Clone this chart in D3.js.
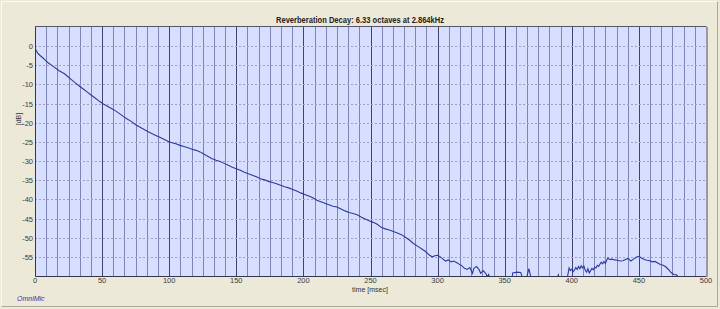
<!DOCTYPE html>
<html>
<head>
  <meta charset="UTF-8">
  <title>Reverberation Decay</title>
  <script src="https://cdn.jsdelivr.net/npm/d3@7"></script>
  <style>
    html, body { margin: 0; padding: 0; background: #ece9d8; }
    svg { display: block; }
    text { font-family: "Liberation Sans", "DejaVu Sans", sans-serif; }
  </style>
</head>
<body>
<div id="chart"></div>
<script>
// decay curve: time in msec, level in dB
var times = [0, 1, 2, 4, 6, 8, 10, 12, 14, 16, 18, 20, 22, 24, 26, 28, 30, 33, 36, 39,
  42, 45, 48, 51, 54, 57, 60, 63, 66, 69, 72, 75, 78, 81, 84, 87, 90, 93, 96, 99,
  102, 105, 108, 111, 114, 117, 120, 123, 126, 129, 132, 135, 138, 141, 144, 147, 150, 153, 156, 159,
  162, 165, 168, 171, 174, 177, 180, 183, 186, 189, 192, 195, 198, 201, 204, 207, 210, 213, 216, 219,
  222, 225, 228, 231, 234, 237, 240, 243, 246, 249, 252, 255, 258, 261, 264, 267, 270, 273, 276, 279,
  282, 285, 288, 291, 294, 296, 298, 300, 302, 304, 306, 308, 310, 312, 314, 316, 318, 320, 322, 324,
  326, 327, 329, 331, 332, 334, 336, 337, 338, 340, 345, 350, 355, 356, 359, 362, 364, 366, 368, 370,
  373, 380, 388, 390, 391, 393, 396, 397, 398, 399, 400, 401, 402, 403, 404, 405, 406, 407, 408, 409,
  410, 411, 412, 413, 414, 415, 416, 417, 418, 419, 420, 421, 422, 423, 424, 425, 426, 427, 428, 430,
  432, 434, 436, 438, 440, 442, 444, 446, 448, 450, 452, 454, 456, 458, 460, 462, 464, 466, 468, 470,
  472, 474, 476, 478, 480, 483, 490, 500];
var levels = [-0.5, -1.2, -1.8, -2.5, -3.1, -3.8, -4.4, -4.9, -5.4, -5.9, -6.4, -6.8, -7.2, -7.8, -8.4, -9.0, -9.6, -10.4, -11.2, -12.0,
  -12.8, -13.6, -14.4, -15.1, -15.7, -16.3, -16.9, -17.6, -18.4, -19.1, -19.7, -20.5, -21.1, -21.7, -22.3, -22.8, -23.3, -23.8, -24.3, -24.8,
  -25.2, -25.5, -25.9, -26.2, -26.5, -26.9, -27.2, -27.6, -28.2, -28.8, -29.4, -29.8, -30.1, -30.6, -31.1, -31.6, -32.0, -32.4, -32.9, -33.3,
  -33.7, -34.1, -34.6, -34.9, -35.3, -35.6, -35.9, -36.3, -36.7, -37.0, -37.4, -37.8, -38.3, -38.7, -39.1, -39.6, -40.2, -40.6, -41.0, -41.4,
  -41.8, -42.0, -42.5, -43.0, -43.4, -43.7, -44.0, -44.6, -45.1, -45.6, -46.0, -46.5, -47.3, -47.7, -48.0, -48.4, -48.8, -49.2, -49.9, -50.6,
  -51.5, -52.2, -52.9, -53.6, -54.6, -55.0, -54.7, -54.6, -55.0, -55.6, -56.1, -55.8, -56.3, -56.1, -56.5, -56.9, -57.3, -58.0, -58.3, -57.8,
  -59.3, -58.0, -57.5, -58.4, -59.3, -58.6, -59.4, -60.2, -59.6, -61.5, -64, -63, -61.5, -59.2, -59.0, -59.1, -61.5, -61, -58.1, -61,
  -64, -66, -61.5, -59.7, -61.5, -64, -61.5, -59.8, -57.9, -58.6, -58.2, -58.9, -58.4, -57.8, -58.3, -57.5, -58.1, -57.3, -57.9, -57.4,
  -58.5, -59.0, -58.1, -59.2, -58.6, -58.0, -58.4, -57.7, -57.9, -57.2, -57.5, -56.9, -56.4, -56.8, -56.2, -56.7, -55.9, -55.3, -55.7, -55.6,
  -55.8, -55.9, -56.1, -56.0, -55.7, -55.4, -56.1, -55.6, -55.1, -54.9, -55.3, -55.7, -55.9, -56.0, -56.3, -56.2, -56.6, -57.0, -57.2, -57.6,
  -58.3, -59.1, -59.6, -59.7, -60.5, -63, -66, -66];

var xTicks = [0, 50, 100, 150, 200, 250, 300, 350, 400, 450, 500];
var yTicks = [0, -5, -10, -15, -20, -25, -30, -35, -40, -45, -50, -55];

var titleText = "Reverberation Decay: 6.33 octaves at 2.864kHz";
var xLabel = "time [msec]";
var yLabel = "[dB]";
var brand = "OmniMic";

var W = 720, H = 309;
var pLeft = 35, pRight = 706, pTop = 27, pBottom = 276;

var svg = d3.select("#chart").append("svg")
  .attr("width", W).attr("height", H);

// window frame
svg.append("rect").attr("x", 0).attr("y", 0).attr("width", W).attr("height", H).attr("fill", "#ece9d8");
svg.append("path").attr("d", "M1.5," + (H - 2) + "V1.5H" + (W - 2))
  .attr("fill", "none").attr("stroke", "#faf9f3");
svg.append("path").attr("d", "M1.5," + (H - 2.5) + "H" + (W - 2.5) + "V1.5")
  .attr("fill", "none").attr("stroke", "#aca899");

var x = d3.scaleLinear().domain([0, 500]).range([pLeft, pRight]);
var y = d3.scaleLinear().domain([-60, 5]).range([pBottom, pTop]);

// plot area
svg.append("rect").attr("x", pLeft).attr("y", pTop)
  .attr("width", pRight - pLeft).attr("height", pBottom - pTop)
  .attr("fill", "#d8defd");

// vertical grid: 60 divisions, darker at every 50 msec
var vLines = d3.range(1, 60).map(function(i) { return i * 500 / 60; });
svg.append("g").selectAll("line").data(vLines).enter().append("line")
  .attr("x1", function(d) { return Math.round(x(d)) + 0.5; })
  .attr("x2", function(d) { return Math.round(x(d)) + 0.5; })
  .attr("y1", pTop).attr("y2", pBottom)
  .attr("stroke", function(d, i) { return (i + 1) % 6 === 0 ? "#3e4374" : "#7c83b6"; })
  .attr("stroke-width", 1);

// horizontal dashed grid
svg.append("g").selectAll("line").data(yTicks).enter().append("line")
  .attr("x1", pLeft).attr("x2", pRight)
  .attr("y1", function(d) { return Math.round(y(d)) + 0.5; })
  .attr("y2", function(d) { return Math.round(y(d)) + 0.5; })
  .attr("stroke", "#9ea2c0").attr("stroke-dasharray", "2,2");

// curve, clipped to the plot
svg.append("clipPath").attr("id", "clip").append("rect")
  .attr("x", pLeft).attr("y", pTop).attr("width", pRight - pLeft).attr("height", pBottom - pTop);

var pts = times.map(function(t, i) { return [t, levels[i]]; });
var line = d3.line().x(function(d) { return x(d[0]); }).y(function(d) { return y(d[1]); });
svg.append("path").datum(pts)
  .attr("clip-path", "url(#clip)")
  .attr("d", line)
  .attr("fill", "none").attr("stroke", "#2a3a9e").attr("stroke-width", 1.1);

// plot border
svg.append("path").attr("d", "M" + (pLeft + 0.5) + "," + pTop + "V" + (pBottom + 0.5) + "H" + (pRight + 0.5))
  .attr("fill", "none").attr("stroke", "#33364f");
svg.append("path").attr("d", "M" + pLeft + "," + (pTop - 0.5) + "H" + (pRight + 0.5))
  .attr("fill", "none").attr("stroke", "#55586a");
svg.append("path").attr("d", "M" + (pRight + 1) + "," + pTop + "V" + (pBottom + 1))
  .attr("fill", "none").attr("stroke", "#9a99a0").attr("stroke-width", 2);

// axes labels
svg.append("g").selectAll("text").data(xTicks).enter().append("text")
  .attr("x", function(d) { return x(d); }).attr("y", 283)
  .attr("text-anchor", "middle").attr("font-size", 7.5).attr("fill", "#3a3a3a")
  .text(function(d) { return d; });

svg.append("g").selectAll("text").data(yTicks).enter().append("text")
  .attr("x", 33).attr("y", function(d) { return y(d) + 3; })
  .attr("text-anchor", "end").attr("font-size", 7.5).attr("fill", "#3a3a3a")
  .text(function(d) { return d; });

svg.append("text").attr("x", 370).attr("y", 292)
  .attr("text-anchor", "middle").attr("font-size", 7).attr("fill", "#333")
  .text(xLabel);

svg.append("text").attr("transform", "translate(21,119) rotate(-90)")
  .attr("text-anchor", "middle").attr("font-size", 7).attr("fill", "#333")
  .text(yLabel);

svg.append("text").attr("x", 360).attr("y", 23)
  .attr("text-anchor", "middle").attr("font-size", 8.5).attr("font-weight", "bold")
  .attr("fill", "#222")
  .attr("textLength", 168).attr("lengthAdjust", "spacingAndGlyphs")
  .text(titleText);

svg.append("text").attr("x", 17).attr("y", 301)
  .attr("font-size", 7).attr("font-style", "italic").attr("fill", "#3434a8")
  .text(brand);
</script>
</body>
</html>
